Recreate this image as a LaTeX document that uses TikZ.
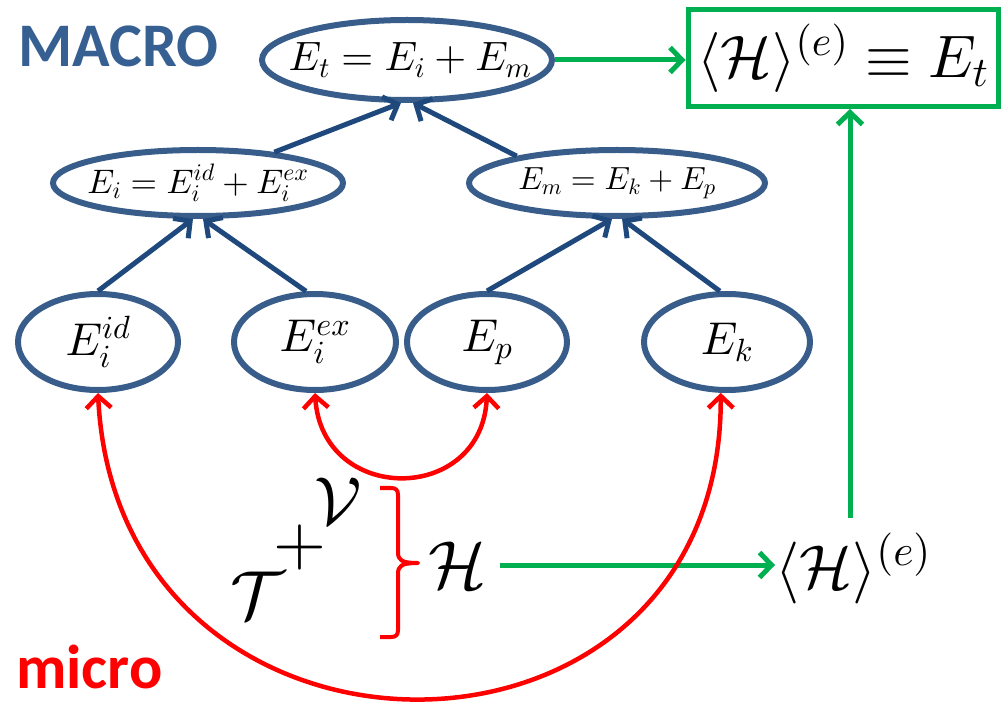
\documentclass[tikz,border=0pt]{standalone}
\usepackage{fontspec}
\newfontfamily\carlito{Carlito}
\DeclareFontShape{OML}{cmm}{m}{it}{<->cmmi10}{}
\DeclareFontShape{OMS}{cmsy}{m}{n}{<->cmsy10}{}
\DeclareFontShape{OT1}{cmr}{m}{n}{<->cmr10}{}
\DeclareFontShape{OMX}{cmex}{m}{n}{<->cmex10}{}
\usetikzlibrary{arrows.meta,shapes.geometric}
\definecolor{ellblue}{RGB}{56,93,138}
\definecolor{arrblue}{RGB}{31,73,125}
\definecolor{macroblue}{RGB}{54,96,146}
\definecolor{pgreen}{RGB}{0,176,80}
\newcommand{\fs}[1]{\fontsize{#1}{#1}\selectfont}
\tikzset{
  ell/.style={ellipse, draw=ellblue, line width=6pt, inner sep=0pt},
  barb/.style={-{Straight Barb[length=12pt,width=25pt]}},
  dbarb/.style={{Straight Barb[length=12pt,width=25pt]}-{Straight Barb[length=12pt,width=25pt]}},
  bluearr/.style={draw=arrblue, line width=5pt, barb},
  greenarr/.style={draw=pgreen, line width=5pt, barb},
  redarr/.style={draw=red, line width=4.5pt, dbarb},
  lbl/.style={inner sep=0pt, font=\carlito\bfseries\fs{62}},
  bigmath/.style={inner sep=0pt, font=\fs{68}},
}
\begin{document}
\begin{tikzpicture}[x=1pt,y=-1pt]
\useasboundingbox (0,0) rectangle (1005,711);

% labels
\node[lbl, text=macroblue, anchor=base west] (macro) at (18,67) {MACRO};
\node[lbl, text=red, anchor=base west] (micro) at (16,688) {micro};

% ellipses
\node[ell, minimum width=290pt, minimum height=80pt,
  label={[font=\fs{41}, inner sep=0pt, xshift=3pt]center:$E_t = E_i + E_m$}] (et) at (407,60) {};
\node[ell, minimum width=290pt, minimum height=66pt,
  label={[font=\fs{34}, inner sep=0pt]center:$E_i = E_i^{id} + E_i^{ex}$}] (ei) at (198,183) {};
\node[ell, minimum width=296pt, minimum height=66pt,
  label={[font=\fs{32}, inner sep=0pt]center:$E_m = E_k + E_p$}] (em) at (617,183) {};
\node[ell, minimum width=160pt, minimum height=96pt, font=\fs{46}] (eid) at (98,342) {$E_i^{id}$};
\node[ell, minimum width=162pt, minimum height=96pt, font=\fs{46}] (eex) at (315,342) {$E_i^{ex}$};
\node[ell, minimum width=160pt, minimum height=96pt, font=\fs{46}] (ep) at (487,342) {$E_p$};
\node[ell, minimum width=166pt, minimum height=96pt, font=\fs{46}] (ek) at (727,342) {$E_k$};

% box
\node[draw=pgreen, line width=5pt, minimum width=310pt, minimum height=97pt, inner sep=0pt, font=\fs{60}] (box) at (843,58) {$\langle\mathcal{H}\rangle^{(e)} \equiv E_t$};

% micro terms
\node[bigmath, anchor=base west] (tt) at (230,618) {$\mathcal{T}$};
\node[bigmath, anchor=base] (plus) at (300,564) {$+$};
\node[bigmath, anchor=base] (vv) at (338,524) {$\mathcal{V}$};
\node[bigmath, anchor=base] (hh) at (458,588) {$\mathcal{H}$};
\node[inner sep=0pt, font=\fs{62}, anchor=base west] (hb) at (775,588) {$\langle\mathcal{H}\rangle^{(e)}$};
\coordinate (hup) at (850,518);
\coordinate (hstart) at (500,565);

% brace
\draw[red, line width=4pt, line join=round]
  (380,488) -- (391,488) .. controls (396,488) and (398,490) .. (398,495)
  -- (398,552) .. controls (398,560) and (401,563) .. (418,563)
  .. controls (401,563) and (398,566) .. (398,574)
  -- (398,630) .. controls (398,635) and (396,637) .. (391,637) -- (380,637);

% blue arrows
\draw[bluearr] (eid.north) -- (ei.262);
\draw[bluearr] (eex.100) -- (ei.278);
\draw[bluearr] (ep.north) -- (em.262);
\draw[bluearr] (ek.98) -- (em.278);
\draw[bluearr] (ei.22) -- (et.262);
\draw[bluearr] (em.165) -- (et.278);

% green arrows
\draw[greenarr] (et.east) -- (et.east -| box.west);
\draw[greenarr] (hup) -- (hup |- box.south);
\draw[greenarr] (hstart) -- (hstart -| hb.west);

% red arrows
\draw[redarr] (eid.south) .. controls (118,800) and (722,800) .. (ek.263);
\draw[redarr] (eex.south) .. controls (322,505) and (482,505) .. (ep.south);
\end{tikzpicture}
\end{document}
